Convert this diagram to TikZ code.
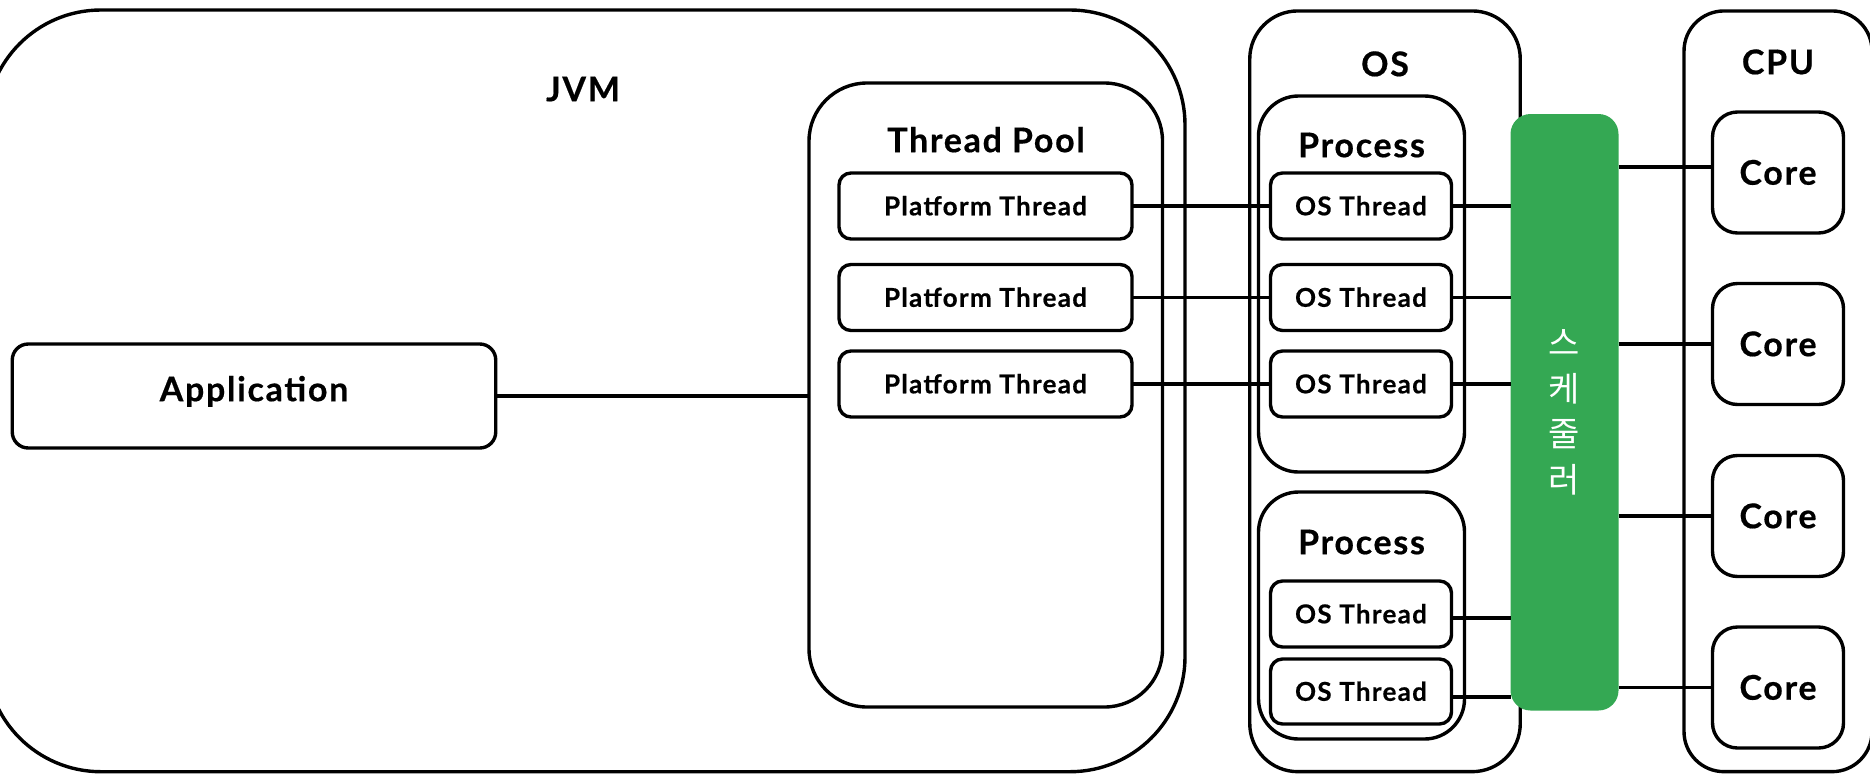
\documentclass[tikz,border=0pt]{standalone}
\usepackage{fontspec}
\setmainfont{Lato}[BoldFeatures={FakeBold=0.5, LetterSpace=5}]
\newfontfamily\krfont{Noto Sans CJK KR}
\definecolor{schedgreen}{HTML}{34A853}
\tikzset{
  boxr/.style={draw=black, line width=3.4pt, rounded corners=#1, inner sep=0pt, outer sep=0pt},
  bigtxt/.style={font=\fontsize{34}{40}\selectfont\bfseries, text height=24.4pt, text depth=0pt},
  smalltxt/.style={font=\fontsize{26}{30}\selectfont\bfseries, text height=18.6pt, text depth=0pt},
  heading/.style={bigtxt, inner sep=0pt},
  thread/.style={boxr=12pt, smalltxt, minimum height=66pt},
  core/.style={boxr=25pt, bigtxt, minimum width=131pt, minimum height=121pt},
  wire/.style={draw=black, line width=3.4pt},
}
\begin{document}
\begin{tikzpicture}[x=1pt, y=-1pt]
\useasboundingbox (0,0) rectangle (1870,774);

% containers
\node[boxr=115pt, minimum width=1199pt, minimum height=761.7pt] (jvm) at (585.5,390.85) {};
\node[boxr=58pt, minimum width=353.5pt, minimum height=624pt] (pool) at (985.75,395) {};
\node[boxr=48pt, minimum width=270.5pt, minimum height=760.7pt] (os) at (1385,391.3) {};
\node[boxr=40pt, minimum width=206pt, minimum height=376pt] (proc1) at (1361.5,284) {};
\node[boxr=40pt, minimum width=206pt, minimum height=247pt] (proc2) at (1361.5,615.5) {};
\node[boxr=40pt, minimum width=188pt, minimum height=760.7pt] (cpu) at (1778,391.3) {};

% headings
\node[heading] (jvmlbl) at (583,89) {JVM};
\node[heading] (poollbl) at (986,140) {Thread Pool};
\node[heading] (oslbl) at (1385,64) {OS};
\node[heading] (cpulbl) at (1778,62) {CPU};
\node[heading] (p1lbl) at (1361.5,145) {Process};
\node[heading] (p2lbl) at (1361.5,542) {Process};

% application
\node[boxr=16pt, bigtxt, text depth=14pt, minimum width=483.5pt, minimum height=104pt] (app) at (254,396) {Application};

% platform threads
\node[thread, minimum width=293pt] (pt1) at (985.5,206) {Platform Thread};
\node[thread, minimum width=293pt] (pt2) at (985.5,297.5) {Platform Thread};
\node[thread, minimum width=293pt] (pt3) at (985.5,384) {Platform Thread};

% OS threads
\node[thread, minimum width=181pt] (ot1) at (1361,206) {OS Thread};
\node[thread, minimum width=181pt] (ot2) at (1361,297.5) {OS Thread};
\node[thread, minimum width=181pt] (ot3) at (1361,384) {OS Thread};
\node[thread, minimum width=181pt] (ot4) at (1361,614) {OS Thread};
\node[thread, minimum width=181pt, minimum height=65pt] (ot5) at (1361,691.5) {OS Thread};

% cores
\node[core] (c1) at (1778,172.5) {Core};
\node[core] (c2) at (1778,344) {Core};
\node[core] (c3) at (1778,516) {Core};
\node[core] (c4) at (1778,687.5) {Core};

% scheduler
\node[fill=schedgreen, rounded corners=20pt, inner sep=0pt, outer sep=0pt,
      minimum width=108pt, minimum height=596.5pt, text=white, align=center,
      font=\krfont\fontsize{34}{45.5}\selectfont] (bar) at (1564.5,412.25) {스\\케\\줄\\러};

% connectors
\draw[wire] (app.east) -- (pool.west |- app.east);
\draw[wire] (pt1.east) -- (ot1.west);
\draw[wire] (pt2.east) -- (ot2.west);
\draw[wire] (pt3.east) -- (ot3.west);
\draw[wire] (ot1.east) -- (bar.west |- ot1.east);
\draw[wire] (ot2.east) -- (bar.west |- ot2.east);
\draw[wire] (ot3.east) -- (bar.west |- ot3.east);
\path ([yshift=-4pt]ot4.east) coordinate (w4);
\path ([yshift=-5.5pt]ot5.east) coordinate (w5);
\draw[wire] (w4) -- (bar.west |- w4);
\draw[wire] (w5) -- (bar.west |- w5);
\path ([yshift=5.5pt]c1.west) coordinate (k1);
\draw[wire] (bar.east |- k1) -- (k1);
\draw[wire] (bar.east |- c2.west) -- (c2.west);
\draw[wire] (bar.east |- c3.west) -- (c3.west);
\draw[wire] (bar.east |- c4.west) -- (c4.west);
\end{tikzpicture}
\end{document}
